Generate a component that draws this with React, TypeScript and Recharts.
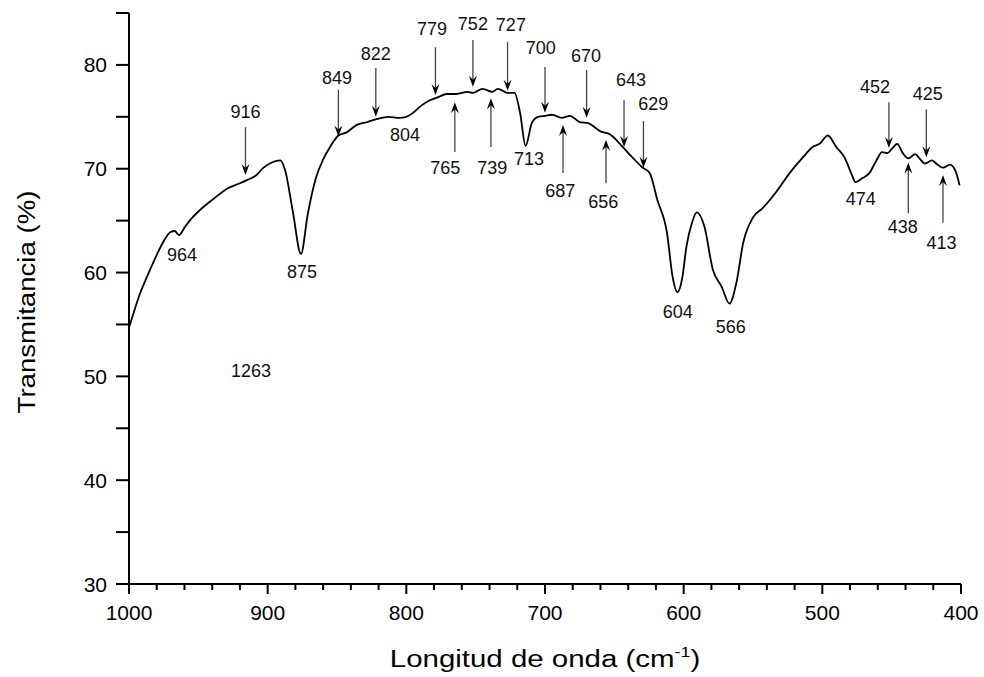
import React from 'react'
import { LineChart, Line, XAxis, YAxis, ReferenceLine, ReferenceDot } from 'recharts'

const FONT = '"Liberation Sans", Arial, Helvetica, sans-serif'

// spectrum (cm-1 / % T)
const wavenumber = [
  1000, 996, 992, 987, 982.7, 975.5, 970, 967, 964, 959.6, 955, 949, 939, 929, 920, 915, 908, 903, 897, 891,
  887.5, 882, 876, 871, 865, 860, 855, 849, 843, 836, 828, 821, 813, 805, 800, 795, 789, 783, 777, 771,
  764, 756, 752, 745, 738, 734, 727, 722, 718, 714, 709.5, 705, 700, 695, 688, 682, 675, 669, 660, 653,
  644, 637, 629.5, 624.5, 619, 612, 608, 604.5, 601, 598, 594, 590.5, 585, 579, 572.5, 567, 562, 557, 550, 543,
  533, 523.5, 514, 507, 502, 496, 490, 484, 479, 476, 471, 466, 461, 457, 453, 450, 446, 442, 438, 433,
  430, 426, 421, 417, 413, 408, 404, 401,
]
const transmittance = [
  54.7, 56.4, 58.0, 59.6, 60.9, 62.9, 63.9, 64.0, 63.6, 64.4, 65.2, 66.0, 67.1, 68.1, 68.6, 68.9, 69.4, 70.1, 70.6, 70.8,
  69.9, 66.0, 61.8, 65.7, 69.2, 70.9, 72.1, 73.2, 73.5, 74.2, 74.5, 74.8, 75.0, 74.9, 75.0, 75.4, 76.1, 76.6, 76.9, 77.2,
  77.2, 77.4, 77.3, 77.7, 77.4, 77.7, 77.3, 77.3, 75.4, 72.2, 74.4, 75.0, 75.1, 75.2, 74.9, 75.1, 74.5, 74.4, 73.6, 73.3,
  72.1, 71.1, 70.1, 69.6, 67.0, 63.8, 59.6, 58.1, 59.5, 62.5, 64.8, 65.8, 64.4, 60.3, 58.6, 57.0, 59.0, 62.9, 65.3, 66.2,
  67.8, 69.6, 71.1, 72.1, 72.4, 73.2, 72.1, 71.1, 69.5, 68.7, 69.1, 69.6, 70.8, 71.6, 71.5, 71.9, 72.4, 71.5, 71.0, 71.4,
  71.0, 70.5, 70.8, 70.4, 70.1, 70.4, 69.8, 68.4,
]

const xTicks = [1000, 980, 960, 940, 920, 900, 880, 860, 840, 820, 800, 780, 760, 740, 720, 700, 680, 660, 640, 620,
  600, 580, 560, 540, 520, 500, 480, 460, 440, 420, 400]
const yTicks = [30, 35, 40, 45, 50, 55, 60, 65, 70, 75, 80, 85]

// arrows pointing down onto the curve (label above)
const downPeaks = [916, 849, 822, 779, 752, 727, 700, 670, 643, 629, 452, 425]
const downLabelX = [916, 850, 822, 781.5, 752, 724.6, 703, 670.5, 638, 622, 462, 424]
const downLabelY = [75.5, 78.8, 81.1, 83.5, 84.0, 83.9, 81.7, 80.9, 78.6, 76.3, 77.9, 77.2]
const downFrom = [74.0, 77.6, 79.7, 81.7, 82.4, 82.2, 79.8, 79.5, 76.6, 74.6, 76.4, 75.7]
const downTo = [69.4, 73.1, 75.0, 77.1, 77.9, 77.5, 75.4, 74.9, 72.1, 70.1, 72.0, 71.1]

// arrows pointing up onto the curve (label below)
const upPeaks = [765, 739, 687, 656, 438, 413]
const upLabelX = [772, 738, 689, 658, 442, 414]
const upLabelY = [70.1, 70.1, 67.9, 66.8, 64.4, 62.9]
const upFrom = [71.6, 72.1, 69.6, 68.6, 65.7, 64.8]
const upTo = [76.4, 76.8, 74.2, 72.8, 70.6, 69.4]

// plain labels, no arrow
const plainLabels = ['964', '875', '804', '713', '604', '566', '474', '1263']
const plainX = [961.8, 875.3, 801, 711.6, 604.2, 566, 472.3, 912]
const plainY = [61.7, 60.1, 73.3, 71.0, 56.2, 54.8, 67.1, 50.6]

const data = wavenumber.map((wn, i) => ({ wn, t: transmittance[i] }))

function YTick(props: any) {
  const { x, y, payload } = props
  const major = payload.value % 10 === 0
  return (
    <g>
      <line x1={x} y1={y} x2={x - 13} y2={y} stroke="#000" strokeWidth={2} />
      {major && (
        <text x={x - 22} y={y} dy="0.36em" textAnchor="end" fontSize={21} fontFamily={FONT} fill="#000">
          {payload.value}
        </text>
      )}
    </g>
  )
}

function XTick(props: any) {
  const { x, y, payload } = props
  const major = payload.value % 100 === 0
  return (
    <g>
      <line x1={x} y1={y} x2={x} y2={y + (major ? 10 : 6)} stroke="#000" strokeWidth={2} />
      {major && (
        <text x={x} y={y + 28} dy="0.36em" textAnchor="middle" fontSize={21} fontFamily={FONT} fill="#000">
          {payload.value}
        </text>
      )}
    </g>
  )
}

function Arrow(props: any) {
  const { x1, y1, x2, y2 } = props
  const dir = y2 > y1 ? 1 : -1
  const hl = 11
  const hw = 4
  return (
    <g>
      <line x1={x1} y1={y1} x2={x2} y2={y2 - dir * 6} stroke="#444" strokeWidth={1.3} />
      <path
        d={`M${x2},${y2} L${x2 - hw},${y2 - dir * hl} L${x2},${y2 - dir * 7} L${x2 + hw},${y2 - dir * hl} Z`}
        fill="#000"
      />
    </g>
  )
}

const peakText = (label: string) => (p: any) => (
  <text x={p.cx} y={p.cy} dy="0.36em" textAnchor="middle" fontSize={18} fontFamily={FONT} fill="#111">
    {label}
  </text>
)

export default function App() {
  return (
    <div style={{ position: 'absolute', left: 0, top: 0, width: 984, height: 677, background: '#fff' }}>
      <LineChart width={984} height={677} data={data} margin={{ top: 13, right: 23, left: 0, bottom: 0 }}>
        <XAxis
          dataKey="wn"
          type="number"
          domain={[400, 1000]}
          reversed
          ticks={xTicks}
          interval={0}
          height={93}
          tickSize={0}
          tickMargin={0}
          tick={<XTick />}
          axisLine={{ stroke: '#000', strokeWidth: 2 }}
          label={() => (
            <g transform="translate(545,667) scale(1.28,1)">
              <text x={0} y={0} textAnchor="middle" fontSize={23} fontFamily={FONT} fill="#000">
                Longitud de onda (cm
                <tspan fontSize={14} dy={-10}>-1</tspan>
                <tspan dy={10}>)</tspan>
              </text>
            </g>
          )}
        />
        <YAxis
          type="number"
          domain={[30, 85]}
          ticks={yTicks}
          interval={0}
          width={129}
          tickSize={0}
          tickMargin={0}
          tick={<YTick />}
          axisLine={{ stroke: '#000', strokeWidth: 2 }}
          label={() => (
            <g transform="translate(26,302) rotate(-90) scale(1.15,1)">
              <text x={0} y={0} dy="0.36em" textAnchor="middle" fontSize={24} fontFamily={FONT} fill="#000">
                Transmitancia (%)
              </text>
            </g>
          )}
        />
        <Line
          dataKey="t"
          type="monotone"
          stroke="#000"
          strokeWidth={1.8}
          dot={false}
          activeDot={false}
          isAnimationActive={false}
        />
        {downPeaks.map((wn, i) => (
          <ReferenceLine
            key={'da' + wn}
            segment={[{ x: wn, y: downFrom[i] }, { x: wn, y: downTo[i] }]}
            shape={<Arrow />}
          />
        ))}
        {upPeaks.map((wn, i) => (
          <ReferenceLine
            key={'ua' + wn}
            segment={[{ x: wn, y: upFrom[i] }, { x: wn, y: upTo[i] }]}
            shape={<Arrow />}
          />
        ))}
        {downPeaks.map((wn, i) => (
          <ReferenceDot key={'dl' + wn} x={downLabelX[i]} y={downLabelY[i]} r={1} shape={peakText(String(wn))} />
        ))}
        {upPeaks.map((wn, i) => (
          <ReferenceDot key={'ul' + wn} x={upLabelX[i]} y={upLabelY[i]} r={1} shape={peakText(String(wn))} />
        ))}
        {plainLabels.map((lab, i) => (
          <ReferenceDot key={'pl' + lab} x={plainX[i]} y={plainY[i]} r={1} shape={peakText(lab)} />
        ))}
      </LineChart>
    </div>
  )
}
